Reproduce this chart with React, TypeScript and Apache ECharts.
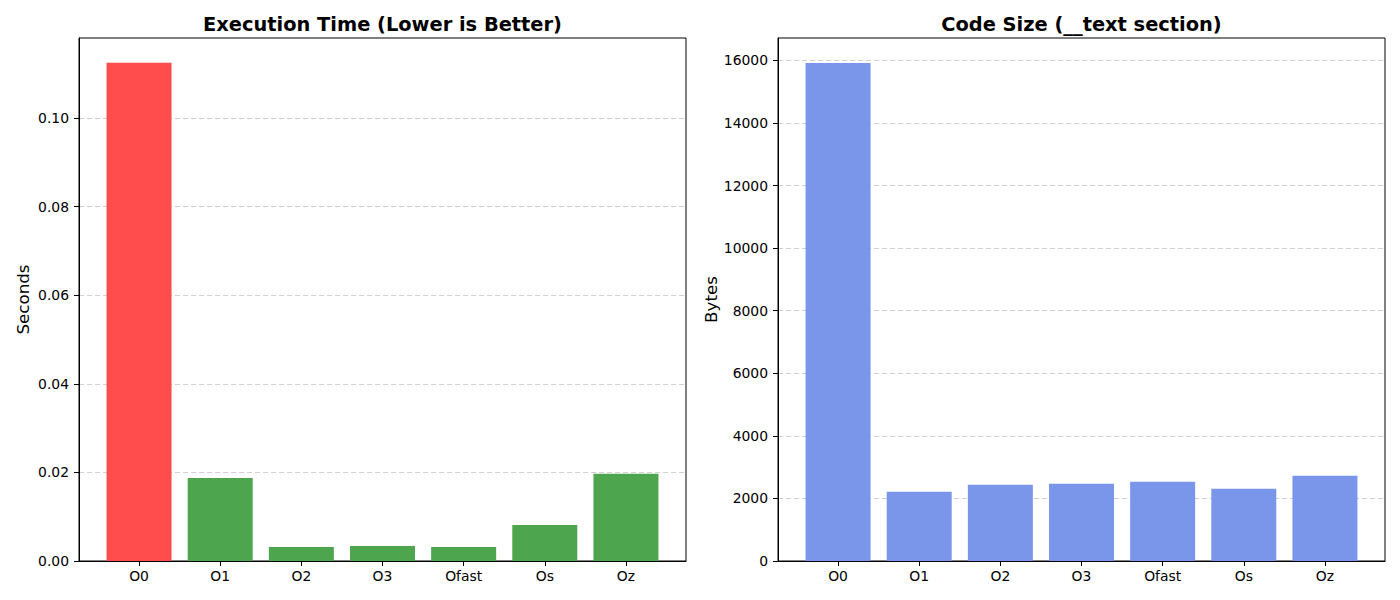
import React, { useEffect, useRef } from "react";
import * as echarts from "echarts";

const categories = ["O0", "O1", "O2", "O3", "Ofast", "Os", "Oz"];
const execSeconds = [0.1125, 0.01875, 0.00316, 0.00339, 0.00316, 0.00813, 0.01972];
const codeBytes = [15920, 2214, 2438, 2470, 2534, 2310, 2725];
const secondsTicks = [0, 0.02, 0.04, 0.06, 0.08, 0.1];
const bytesTicks = [0, 2000, 4000, 6000, 8000, 10000, 12000, 14000, 16000];

const FONT = "DejaVu Sans";
const RED = "#ff4d4d";
const GREEN = "#4da64d";
const BLUE = "#7a96ea";

export default function App() {
  const ref = useRef<HTMLDivElement>(null);
  useEffect(() => {
    if (!ref.current) return;
    const chart = echarts.init(ref.current, undefined, { renderer: "svg" });
    const catIdx = categories.map((_, i) => i);
    const xAxisFor = (gridIndex: number) => ({
      type: "value",
      gridIndex,
      min: -0.74,
      max: 6.74,
      axisLine: { show: true, onZero: false, lineStyle: { color: "#000", width: 1 } },
      axisTick: { show: true, length: 5, customValues: catIdx, lineStyle: { color: "#000" } },
      axisLabel: {
        customValues: catIdx,
        formatter: (v: number) => categories[Math.round(v)] ?? "",
        color: "#000",
        fontFamily: FONT,
        fontSize: 13.9,
        margin: 8,
      },
      splitLine: { show: false },
    });
    const yAxisFor = (gridIndex: number, max: number, interval: number, ticks: number[], name: string, gap: number, fmt: (v: number) => string) => ({
      type: "value",
      gridIndex,
      min: 0,
      max,
      interval,
      name,
      nameLocation: "middle",
      nameRotate: 90,
      nameGap: gap,
      nameTextStyle: { color: "#000", fontFamily: FONT, fontSize: 16.7 },
      axisLine: { show: true, onZero: false, lineStyle: { color: "#000", width: 1 } },
      axisTick: { show: true, length: 5, customValues: ticks, lineStyle: { color: "#000" } },
      axisLabel: {
        customValues: ticks,
        formatter: fmt,
        color: "#000",
        fontFamily: FONT,
        fontSize: 13.9,
        margin: 10,
      },
      splitLine: { show: true, lineStyle: { color: "#d0d0d0", type: [5, 3], width: 1 } },
    });
    chart.setOption({
      animation: false,
      backgroundColor: "#fff",
      graphic: [
        {
          type: "text",
          x: 382.5,
          y: 24,
          style: {
            text: "Execution Time (Lower is Better)",
            textAlign: "center",
            textVerticalAlign: "middle",
            fontFamily: FONT,
            fontWeight: "bold",
            fontSize: 19.4,
            fill: "#000",
          },
        },
        {
          type: "text",
          x: 1081.5,
          y: 24,
          style: {
            text: "Code Size (__text section)",
            textAlign: "center",
            textVerticalAlign: "middle",
            fontFamily: FONT,
            fontWeight: "bold",
            fontSize: 19.4,
            fill: "#000",
          },
        },
      ],
      grid: [
        { left: 79, top: 38, width: 607, height: 523, show: true, borderColor: "#000", borderWidth: 1, backgroundColor: "transparent" },
        { left: 778, top: 38, width: 607, height: 523, show: true, borderColor: "#000", borderWidth: 1, backgroundColor: "transparent" },
      ],
      xAxis: [xAxisFor(0), xAxisFor(1)],
      yAxis: [
        yAxisFor(0, 0.1181, 0.02, secondsTicks, "Seconds", 48, (v: number) => v.toFixed(2)),
        yAxisFor(1, 16716, 2000, bytesTicks, "Bytes", 59, (v: number) => String(Math.round(v))),
      ],
      series: [
        {
          type: "bar",
          xAxisIndex: 0,
          yAxisIndex: 0,
          barWidth: 65,
          data: execSeconds.map((v, i) => [i, v]),
          itemStyle: { color: (p: any) => (p.dataIndex === 0 ? RED : GREEN) },
        },
        {
          type: "bar",
          xAxisIndex: 1,
          yAxisIndex: 1,
          barWidth: 65,
          data: codeBytes.map((v, i) => [i, v]),
          itemStyle: { color: BLUE },
        },
      ],
    });
    return () => chart.dispose();
  }, []);
  return (
    <div
      ref={ref}
      style={{ position: "fixed", left: 0, top: 0, width: 1400, height: 600, background: "#fff" }}
    />
  );
}
